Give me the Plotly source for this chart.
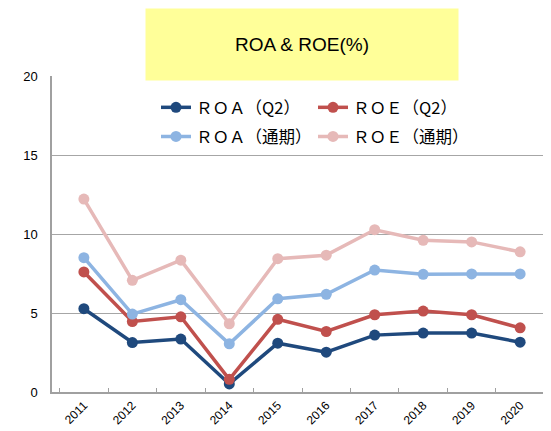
import plotly.graph_objects as go

years = ["2011", "2012", "2013", "2014", "2015", "2016", "2017", "2018", "2019", "2020"]
roa_q2 = [5.27, 3.13, 3.35, 0.51, 3.09, 2.52, 3.60, 3.73, 3.73, 3.15]
roe_q2 = [7.60, 4.46, 4.76, 0.80, 4.60, 3.83, 4.89, 5.12, 4.89, 4.06]
roa_full = [8.50, 4.93, 5.84, 3.05, 5.90, 6.18, 7.72, 7.45, 7.47, 7.47]
roe_full = [12.21, 7.07, 8.34, 4.32, 8.44, 8.66, 10.27, 9.60, 9.50, 8.87]

names = ["ＲＯＡ（Q2）", "ＲＯＥ（Q2）", "ＲＯＡ（通期）", "ＲＯＥ（通期）"]
colors = ["#1F497D", "#C0504D", "#8DB4E2", "#E6B9B8"]
series = [roa_q2, roe_q2, roa_full, roe_full]
legends = ["legend", "legend", "legend2", "legend2"]

fig = go.Figure()
for name, vals, col, lg in zip(names, series, colors, legends):
    fig.add_trace(go.Scatter(
        x=years, y=vals, name=name, mode="lines+markers",
        line=dict(color=col, width=3.5),
        marker=dict(color=col, size=11),
        legend=lg,
    ))

legend_style = dict(
    orientation="h", xanchor="left", yanchor="middle",
    font=dict(family="Noto Sans CJK JP", size=16.5, color="#000000"),
    bgcolor="rgba(0,0,0,0)", entrywidth=112, entrywidthmode="pixels",
    itemwidth=30,
)

# page body has an 8px margin, so the figure is a bit smaller than the window
fig.update_layout(
    width=544, height=423,
    margin=dict(l=44, r=0, t=68, b=39),
    paper_bgcolor="white", plot_bgcolor="white",
    showlegend=True,
    legend=dict(x=0.208, y=0.9, **legend_style),
    legend2=dict(x=0.208, y=0.808, **legend_style),
    xaxis=dict(
        type="category", showgrid=False, showline=True,
        linecolor="#a0a0a0", linewidth=1.5, automargin=False,
        ticks="inside", tickson="boundaries", ticklen=4, tickcolor="#a0a0a0",
        tickangle=-45, tickfont=dict(family="Liberation Sans", size=12, color="#000000"),
        fixedrange=True,
    ),
    yaxis=dict(
        range=[0, 20], dtick=5, showgrid=True, gridcolor="#a6a6a6", gridwidth=1,
        showline=True, linecolor="#a0a0a0", linewidth=1.5, zeroline=False,
        automargin=False,
        tickfont=dict(family="Liberation Sans", size=13, color="#000000"),
        ticks="", ticklabelstandoff=10,
    ),
    annotations=[dict(
        text="ROA & ROE(%)", xref="paper", yref="paper",
        x=0.5, y=1.0997, xanchor="center", yanchor="middle",
        width=310, height=69, bgcolor="#FFFF99", showarrow=False,
        font=dict(family="Liberation Sans", size=19, color="#000000"),
    )],
)

fig.write_html("out.html")
